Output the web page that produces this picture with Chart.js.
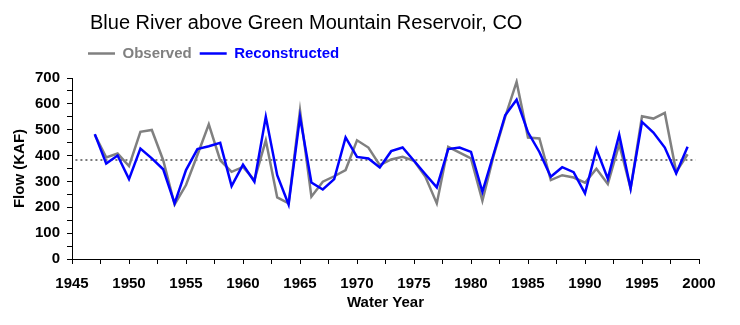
<!DOCTYPE html>
<html>
<head>
<meta charset="utf-8">
<script src="https://cdn.jsdelivr.net/npm/chart.js@4"></script>
<style>
  html, body { margin: 0; padding: 0; background: #fff; }
  #wrap { width: 740px; height: 325px; }
</style>
</head>
<body>
<div id="wrap"><canvas id="flowChart" width="740" height="325"></canvas></div>
<script>
// water years and flows (KAF)
const years = [1947, 1948, 1949, 1950, 1951, 1952, 1953, 1954, 1955, 1956,
  1957, 1958, 1959, 1960, 1961, 1962, 1963, 1964, 1965, 1966,
  1967, 1968, 1969, 1970, 1971, 1972, 1973, 1974, 1975, 1976,
  1977, 1978, 1979, 1980, 1981, 1982, 1983, 1984, 1985, 1986,
  1987, 1988, 1989, 1990, 1991, 1992, 1993, 1994, 1995, 1996,
  1997, 1998, 1999];
const observed = [480, 393, 408, 359, 492, 499, 382, 211, 286, 402,
  521, 382, 337, 356, 305, 459, 238, 215, 575, 241,
  299, 320, 344, 459, 431, 363, 385, 395, 380, 318,
  215, 434, 411, 389, 225, 402, 550, 685, 470, 466,
  305, 324, 315, 295, 349, 290, 444, 273, 552, 543,
  565, 337, 405];
const reconstructed = [483, 369, 400, 309, 427, 389, 347, 215, 344, 425,
  436, 449, 282, 365, 299, 550, 324, 211, 550, 296,
  269, 309, 470, 395, 389, 354, 417, 431, 380, 328,
  277, 425, 431, 414, 260, 408, 556, 616, 490, 414,
  318, 355, 336, 254, 425, 311, 481, 273, 530, 489,
  431, 331, 434];
// long-term mean (dotted line) and the years it spans
const meanFlow = 383;
const meanYears = [1945.3, 1999.7];

const xTickLabels = [1945, 1950, 1955, 1960, 1965, 1970, 1975, 1980, 1985, 1990, 1995, 2000];
const yTickLabels = [0, 100, 200, 300, 400, 500, 600, 700];

const FONT = "'Liberation Sans', Arial, sans-serif";

const toPoints = (xs, ys) => xs.map((x, i) => ({ x: x, y: ys[i] }));

// title and legend sit a little right of the plot's left edge
const placeHeader = {
  id: 'placeHeader',
  afterLayout(chart) {
    chart.titleBlock.left = 90;
    chart.titleBlock.top = 0;
    chart.legend.left = 80;
    chart.legend.top = 38;
  }
};

new Chart(document.getElementById('flowChart').getContext('2d'), {
  type: 'line',
  data: {
    datasets: [
      {
        label: 'Observed',
        data: toPoints(years, observed),
        borderColor: '#808080',
        borderWidth: 2.5,
        pointRadius: 0,
        tension: 0,
        order: 2,
      },
      {
        label: 'Reconstructed',
        data: toPoints(years, reconstructed),
        borderColor: '#0000ff',
        borderWidth: 2.5,
        pointRadius: 0,
        tension: 0,
        order: 1,
      },
      {
        label: 'Mean',
        data: meanYears.map(x => ({ x: x, y: meanFlow })),
        borderColor: '#7a7a7a',
        borderWidth: 2,
        borderDash: [2, 3],
        pointRadius: 0,
        order: 3,
      },
    ],
  },
  options: {
    responsive: false,
    animation: false,
    layout: { padding: { left: 7, right: 41, top: 0, bottom: 9 } },
    plugins: {
      title: {
        display: true,
        text: 'Blue River above Green Mountain Reservoir, CO',
        align: 'start',
        color: '#000',
        font: { family: FONT, size: 20, weight: 'normal' },
        padding: { top: 11, bottom: 1 },
      },
      legend: {
        display: true,
        align: 'start',
        labels: {
          usePointStyle: true,
          pointStyle: 'line',
          pointStyleWidth: 27,
          padding: 8,
          font: { family: FONT, size: 15, weight: 'bold' },
          generateLabels(chart) {
            const items = Chart.defaults.plugins.legend.labels.generateLabels(chart);
            return items
              .filter(item => item.datasetIndex < 2)
              .sort((a, b) => a.datasetIndex - b.datasetIndex)
              .map(item => Object.assign(item, { fontColor: item.strokeStyle }));
          },
        },
      },
      tooltip: { enabled: false },
    },
    scales: {
      x: {
        type: 'linear',
        min: 1945,
        max: 2000,
        afterFit(scale) { scale.height = 57; },
        border: { color: '#000', width: 1 },
        grid: { display: true, drawOnChartArea: false, drawTicks: true, tickLength: 5, color: '#000' },
        ticks: {
          stepSize: 2.5,
          autoSkip: false,
          maxRotation: 0,
          padding: 11,
          color: '#000',
          font: { family: FONT, size: 15, weight: 'bold' },
          callback: v => (xTickLabels.includes(v) ? String(v) : ''),
        },
        title: {
          display: true,
          text: 'Water Year',
          color: '#000',
          font: { family: FONT, size: 15, weight: 'bold' },
          padding: { top: 4, bottom: 4 },
        },
      },
      y: {
        min: 0,
        max: 700,
        // fixed axis width, and keep the plot top clear of the legend
        afterFit(scale) {
          scale.width = 65;
          scale.paddingTop = 78;
        },
        border: { color: '#000', width: 1 },
        grid: { display: true, drawOnChartArea: false, drawTicks: true, tickLength: 5, color: '#000' },
        ticks: {
          stepSize: 50,
          autoSkip: false,
          padding: 7,
          color: '#000',
          font: { family: FONT, size: 15, weight: 'bold' },
          callback: v => (yTickLabels.includes(v) ? String(v) : ''),
        },
        title: {
          display: true,
          text: 'Flow (KAF)',
          color: '#000',
          font: { family: FONT, size: 15, weight: 'bold' },
          padding: { top: 4, bottom: 4 },
        },
      },
    },
  },
  plugins: [placeHeader],
});
</script>
</body>
</html>
